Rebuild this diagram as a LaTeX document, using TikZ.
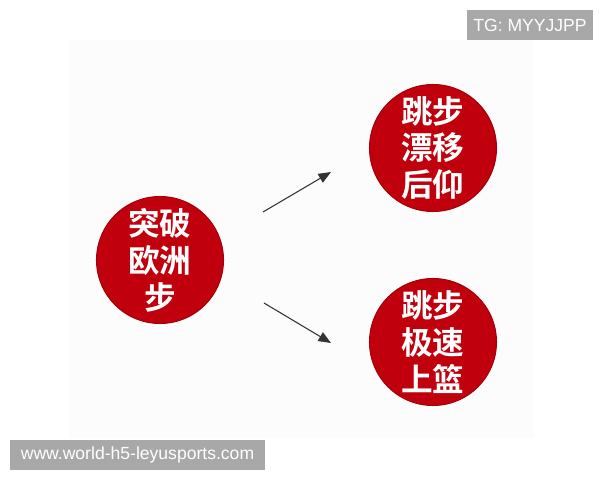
\documentclass[tikz,border=0pt]{standalone}
\usepackage{fontspec}
\setmainfont{Liberation Sans}
\newfontfamily\cjk{Noto Sans CJK SC}[BoldFont={* Bold}]
\usetikzlibrary{arrows.meta}
\definecolor{ballred}{RGB}{192,0,12}
\definecolor{markgray}{RGB}{168,168,168}
\definecolor{arrowgray}{RGB}{51,51,51}

\tikzset{
  ball/.style={circle, fill=ballred, draw=ballred!85!black, line width=0.6pt,
    minimum size=2.54cm, inner sep=0pt, text=white, align=center,
    font=\cjk\bfseries\fontsize{18}{21}\selectfont},
  tagbox/.style={fill=markgray, text=white, inner sep=0pt, minimum height=0.6cm,
    font=\fontsize{10}{12}\selectfont},
  push/.style={draw=arrowgray, line width=0.6pt, -{Triangle[length=0.25cm, width=0.2cm]}}
}

\begin{document}
\begin{tikzpicture}[x=0.02cm,y=-0.02cm]
  \useasboundingbox (0,0) rectangle (600,480);
  \fill[white] (0,0) rectangle (600,480);
  \fill[gray!2.5] (69,40) rectangle (534,438);

  \node[ball] (eurostep) at (160,260) {突破\\欧洲\\步};
  \node[ball] (fadeaway) at (433,148) {跳步\\漂移\\后仰};
  \node[ball] (layup)    at (433,342) {跳步\\极速\\上篮};

  \coordinate (up0) at (263,212);
  \coordinate (up1) at (331,172);
  \coordinate (dn0) at (264,303);
  \coordinate (dn1) at (331,343);

  \draw[push] (up0) -- (up1);
  \draw[push] (dn0) -- (dn1);

  \node[tagbox, minimum width=2.52cm] (tg)   at (530,25)  {TG: MYYJJPP};
  \node[tagbox, minimum width=5.1cm]  (site) at (137.5,455) {www.world-h5-leyusports.com};
\end{tikzpicture}
\end{document}
